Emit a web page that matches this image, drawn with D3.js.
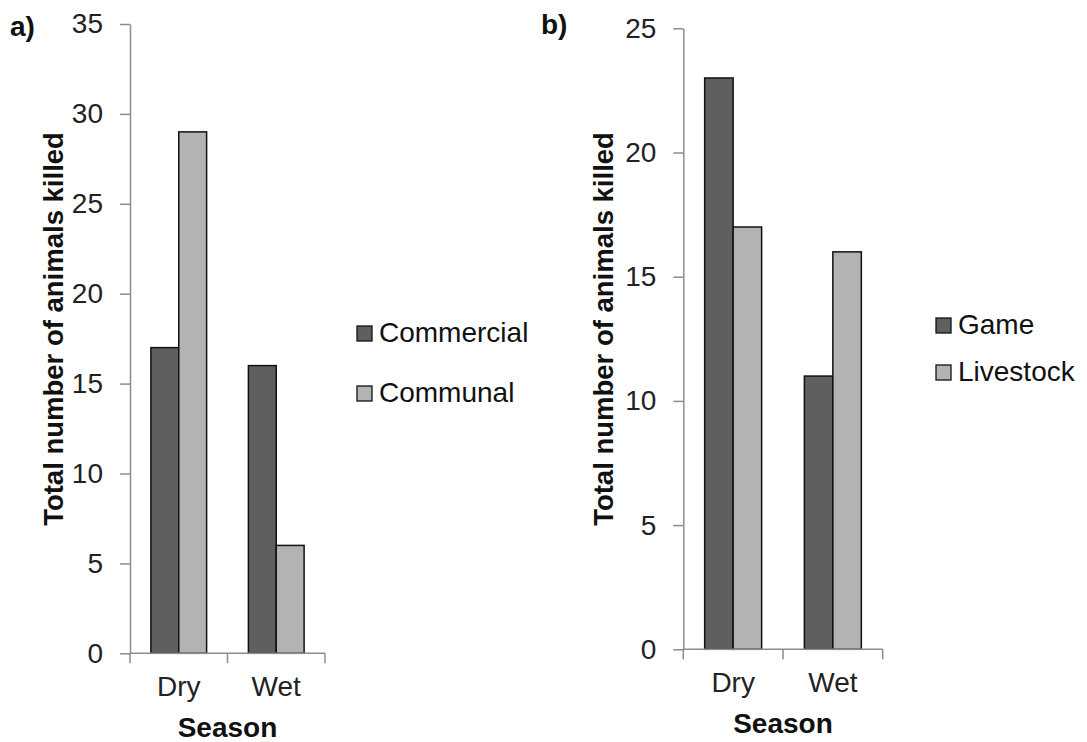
<!DOCTYPE html>
<html>
<head>
<meta charset="utf-8">
<script src="https://cdn.jsdelivr.net/npm/d3@7"></script>
<style>
  html, body { margin: 0; padding: 0; background: #fff; }
  svg { display: block; font-family: "Liberation Sans", Arial, sans-serif; }
</style>
</head>
<body>
<svg id="chart" width="1087" height="742"></svg>
<script>
// ---- data ----
const seasons = ["Dry", "Wet"];
const seriesA = ["Commercial", "Communal"];
const commercial = [17, 16];
const communal = [29, 6];
const ticksA = [0, 5, 10, 15, 20, 25, 30, 35];

const seriesB = ["Game", "Livestock"];
const game = [23, 11];
const livestock = [17, 16];
const ticksB = [0, 5, 10, 15, 20, 25];

const colors = ["#5f5f5f", "#b3b3b3"];
const yTitle = "Total number of animals killed";
const xTitle = "Season";

const svg = d3.select("#chart");

function panel(cfg) {
  const g = svg.append("g");
  const x0 = d3.scaleBand().domain(seasons).range(cfg.xr).padding(0);
  const bw = x0.bandwidth();
  const gap = bw * 0.75 / 1.75 / 2;
  const x1 = d3.scaleBand().domain(cfg.series).range([gap, bw - gap]).padding(0);
  const y = d3.scaleLinear().domain(cfg.ydom).range(cfg.yr);

  // bars
  const rows = seasons.map((s, i) => ({ s, vals: cfg.values.map((v, k) => ({ name: cfg.series[k], v: v[i], k })) }));
  g.selectAll("g.grp").data(rows).join("g")
    .attr("transform", d => `translate(${x0(d.s)},0)`)
    .selectAll("rect").data(d => d.vals).join("rect")
    .attr("x", d => x1(d.name))
    .attr("width", x1.bandwidth())
    .attr("y", d => y(d.v))
    .attr("height", d => y(0) - y(d.v))
    .attr("fill", d => colors[d.k])
    .attr("stroke", "#111")
    .attr("stroke-width", 1.5);

  // y axis
  const ya = g.append("g").attr("transform", `translate(${cfg.xr[0]},0)`)
    .call(d3.axisLeft(y).tickValues(cfg.ticks).tickSize(10).tickPadding(17).tickSizeOuter(0));
  ya.select(".domain").attr("stroke", "#8c8c8c").attr("stroke-width", 1.5);
  ya.selectAll(".tick line").attr("stroke", "#8c8c8c").attr("stroke-width", 1.5);
  ya.selectAll(".tick text").attr("font-size", 28).attr("fill", "#222")
    .attr("font-family", "Liberation Sans, Arial, sans-serif");

  // x axis
  const xa = g.append("g").attr("transform", `translate(0,${y(0)})`)
    .call(d3.axisBottom(x0).tickSize(0).tickPadding(23));
  xa.select(".domain").remove();
  xa.selectAll(".tick text").attr("font-size", 28).attr("fill", "#222")
    .attr("font-family", "Liberation Sans, Arial, sans-serif");
  g.append("line").attr("x1", cfg.xr[0]).attr("x2", cfg.xr[1])
    .attr("y1", y(0)).attr("y2", y(0)).attr("stroke", "#8c8c8c").attr("stroke-width", 1.5);
  const bounds = seasons.map(s => x0(s)).concat([x0(seasons[seasons.length - 1]) + bw]);
  g.selectAll("line.bt").data(bounds).join("line").attr("class", "bt")
    .attr("x1", d => d).attr("x2", d => d)
    .attr("y1", y(0)).attr("y2", y(0) + 10)
    .attr("stroke", "#8c8c8c").attr("stroke-width", 1.5);

  // titles
  g.append("text").attr("x", (cfg.xr[0] + cfg.xr[1]) / 2).attr("y", cfg.seasonY)
    .attr("text-anchor", "middle").attr("font-size", 28).attr("font-weight", "bold")
    .attr("fill", "#111").text(xTitle);
  g.append("text").attr("transform", `translate(${cfg.ytX},${cfg.ytY}) rotate(-90)`)
    .attr("text-anchor", "middle").attr("font-size", 27.5).attr("font-weight", "bold")
    .attr("fill", "#111").text(yTitle);
  g.append("text").attr("x", cfg.lab[0]).attr("y", cfg.lab[1])
    .attr("font-size", 28).attr("font-weight", "bold").attr("fill", "#111").text(cfg.label);

  // legend
  const lg = g.selectAll("g.leg").data(cfg.series).join("g")
    .attr("transform", (d, i) => `translate(${cfg.leg[0]},${cfg.leg[1] + i * cfg.leg[2]})`);
  lg.append("rect").attr("x", 0).attr("y", -16).attr("width", 15).attr("height", 15)
    .attr("fill", (d, i) => colors[i]).attr("stroke", "#111").attr("stroke-width", 1.3);
  lg.append("text").attr("x", 22).attr("y", 0).attr("font-size", 28).attr("fill", "#111").text(d => d);
}

panel({
  xr: [130, 325], yr: [653.3, 24], ydom: [0, 35], ticks: ticksA,
  series: seriesA, values: [commercial, communal],
  seasonY: 737, ytX: 63, ytY: 329, lab: [10, 36], label: "a)",
  leg: [357, 342, 60]
});
panel({
  xr: [683.3, 882.7], yr: [649.3, 28.3], ydom: [0, 25], ticks: ticksB,
  series: seriesB, values: [game, livestock],
  seasonY: 733, ytX: 613, ytY: 329, lab: [541, 34], label: "b)",
  leg: [936, 334, 47]
});
</script>
</body>
</html>
